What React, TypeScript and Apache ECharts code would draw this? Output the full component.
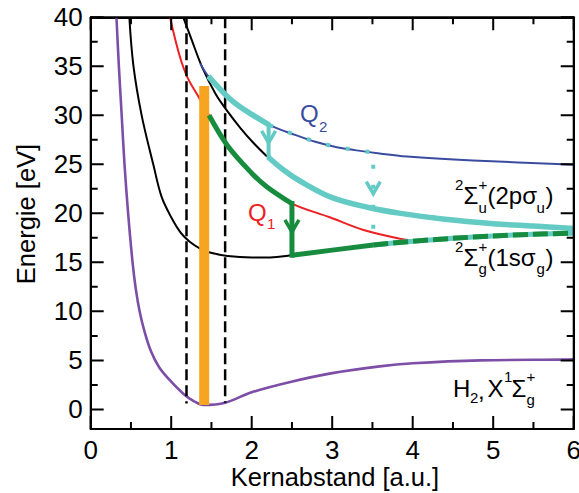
import React, { useEffect, useRef } from "react";
import * as echarts from "echarts";

// Internuclear distance R in a.u., energy E in eV.
const xTicks = [0, 1, 2, 3, 4, 5, 6];
const xMinorTicks = [0.5, 1.5, 2.5, 3.5, 4.5, 5.5];
const yMajorTicks = [0, 5, 10, 15, 20, 25, 30, 35, 40];
const yMinorTicks = [2.5, 7.5, 12.5, 17.5, 22.5, 27.5, 32.5, 37.5];
const X_MIN = 0;
const X_MAX = 6;
const Y_MIN = -2;
const Y_MAX = 40;

// H2 ground state X 1Σg+
const groundState = [
  [0.32, 40], [0.35, 35], [0.385, 30], [0.42, 25], [0.465, 20], [0.52, 15],
  [0.56, 12.3], [0.61, 9.9], [0.67, 7.9], [0.75, 5.9], [0.85, 4.3], [0.98, 3.0],
  [1.15, 1.6], [1.28, 0.85], [1.4, 0.45], [1.67, 0.68], [2.0, 1.75], [2.48, 2.8],
  [3.0, 3.7], [3.59, 4.39], [4.0, 4.7], [4.84, 5.0], [5.87, 5.08], [6.0, 5.1],
];

// H2+ 2Σg+(1sσg), repulsive wall and well
const sigmaGWall = [
  [0.48, 40], [0.53, 35.1], [0.633, 30], [0.78, 24.9], [0.88, 21.7], [1.0, 19.6],
  [1.12, 18.0], [1.23, 17.1], [1.36, 16.4], [1.48, 16.0], [1.7, 15.65], [2.0, 15.5], [2.23, 15.5],
];
// 1sσg from the end of the Q1 drop to the bend
const sigmaGMid = [[2.5, 15.72], [3.0, 16.25], [3.51, 16.78]];
// 1sσg towards dissociation
const sigmaGTail = [[3.51, 16.78], [4.0, 17.15], [4.5, 17.45], [5.0, 17.7], [5.5, 17.87], [6.0, 17.97]];

// Coulomb branch
const coulomb = [[1.15, 40], [1.25, 37.8], [1.38, 35], [1.55, 32.2], [1.7, 30.4], [1.86, 28.7], [2.02, 27.2], [2.19, 25.8]];

// Q1 doubly excited state
const q1Curve = [
  [0.985, 40], [1.1, 36.2], [1.2, 33.9], [1.36, 31.6], [1.47, 30.0], [1.7, 26.9],
  [2.0, 24.1], [2.19, 22.7], [2.5, 21.0], [2.97, 19.6], [3.39, 18.3], [3.88, 17.35], [4.05, 17.2],
];
const q1Path = [[1.47, 30.0], [1.7, 26.9], [2.0, 24.1], [2.19, 22.7], [2.5, 21.0]];

// Q2 doubly excited state
const q2Curve = [
  [1.36, 35.3], [1.46, 34.0], [1.7, 31.9], [1.85, 30.9], [2.0, 30.1], [2.22, 29.0],
  [2.54, 28.0], [2.79, 27.3], [3.03, 26.8], [3.28, 26.45], [3.59, 26.1], [3.93, 25.8],
  [4.75, 25.4], [5.87, 25.0], [6.0, 24.97],
];
const q2Path = [[1.46, 34.0], [1.7, 31.9], [1.85, 30.9], [2.0, 30.1], [2.22, 29.0]];
const q2Dotted = [[2.22, 29.0], [2.54, 28.0], [2.79, 27.3], [3.03, 26.8], [3.28, 26.45], [3.51, 26.2], [3.51, 16.78]];

// 2Σu+(2pσu)
const sigmaU = [
  [2.21, 25.7], [2.4, 24.4], [2.6, 23.3], [3.0, 21.6], [3.45, 20.6], [3.85, 20.0],
  [4.4, 19.4], [5.0, 18.95], [5.5, 18.7], [6.0, 18.45],
];

// Vertical drops
const q1Drop = [[2.5, 21.0], [2.5, 15.72]];
const q2Drop = [[2.21, 29.0], [2.21, 25.7]];
// Arrowhead tips [R, E]
const greenHeads = [[2.5, 18.1]];
const cyanHeads = [[2.21, 27.2], [3.51, 22.0]];

// Franck-Condon region and vertical excitation
const fcLeft = [[1.19, 40], [1.19, 0.6]];
const fcRight = [[1.67, 40], [1.67, 0.68]];
const excitation = [[1.41, 0.45], [1.41, 33.0]];

const FONT = '"Liberation Sans", Arial, Helvetica, sans-serif';
const PURPLE = "#7d4ea6";
const RED = "#ee2024";
const BLUE = "#3a4ca0";
const GREEN = "#178c3e";
const CYAN = "#63cbc4";
const ORANGE = "#f7a520";

const WIDTH = 579;
const HEIGHT = 493;
const GRID = { left: 90.7, right: 5.3, top: 17.3, bottom: 64 };
const PLOT_W = WIDTH - GRID.left - GRID.right;
const PLOT_H = HEIGHT - GRID.top - GRID.bottom;

function line(data: number[][], color: string, width: number, extra: any = {}) {
  return {
    type: "line",
    data,
    showSymbol: false,
    symbol: "none",
    silent: true,
    clip: true,
    smooth: extra.smooth ?? 0.35,
    lineStyle: { color, width, type: extra.dash ?? "solid", cap: extra.cap ?? "butt", join: "miter" },
    z: 2,
  };
}

function heads(data: number[][], color: string, width: number) {
  return {
    type: "custom",
    silent: true,
    data,
    z: 5,
    renderItem: (_p: any, api: any) => {
      const p = api.coord([api.value(0), api.value(1)]);
      return {
        type: "polyline",
        shape: { points: [[p[0] - 7, p[1] - 12], [p[0], p[1]], [p[0] + 7, p[1] - 12]] },
        style: { stroke: color, lineWidth: width, fill: null },
      };
    },
  };
}

// Each side of the frame is one long polyline running along the edge,
// stepping inward and back at every tick.
function frameWithTicks() {
  const px = (v: number) => GRID.left + ((v - X_MIN) / (X_MAX - X_MIN)) * PLOT_W;
  const py = (v: number) => GRID.top + ((Y_MAX - v) / (Y_MAX - Y_MIN)) * PLOT_H;
  const left = GRID.left;
  const right = GRID.left + PLOT_W;
  const top = GRID.top;
  const bottom = GRID.top + PLOT_H;

  const xs = [...xTicks.map((v) => [v, 13]), ...xMinorTicks.map((v) => [v, 7])].sort((a, b) => a[0] - b[0]);
  const ys = [...yMajorTicks.map((v) => [v, 13]), ...yMinorTicks.map((v) => [v, 7])].sort((a, b) => b[0] - a[0]);

  const horizontal = (edge: number, dir: number) => {
    const pts: number[][] = [[left, edge]];
    xs.forEach(([v, len]) => {
      const x = px(v);
      pts.push([x, edge], [x, edge + dir * len], [x, edge]);
    });
    pts.push([right, edge]);
    return pts;
  };
  const vertical = (edge: number, dir: number) => {
    const pts: number[][] = [[edge, top]];
    ys.forEach(([v, len]) => {
      const y = py(v);
      pts.push([edge, y], [edge + dir * len, y], [edge, y]);
    });
    pts.push([edge, bottom]);
    return pts;
  };
  const poly = (points: number[][]) => ({
    type: "polyline",
    silent: true,
    z: 20,
    shape: { points },
    style: { stroke: "#000", lineWidth: 2, fill: null, lineJoin: "bevel", lineCap: "butt" },
  });
  return [
    poly(horizontal(bottom, -1)),
    poly(horizontal(top, 1)),
    poly(vertical(left, 1)),
    poly(vertical(right, -1)),
  ];
}

function frameAxis(kind: "x" | "y", position: string, labels: boolean) {
  const base: any = {
    type: "value",
    position,
    splitLine: { show: false },
    axisLine: { show: true, onZero: false, lineStyle: { color: "#000", width: 2 } },
    axisTick: { show: false },
    minorTick: { show: false },
    axisLabel: { show: labels, color: "#000", fontSize: 26, fontFamily: FONT, margin: 8 },
  };
  if (kind === "x") return { ...base, min: X_MIN, max: X_MAX, interval: 1 };
  return { ...base, min: Y_MIN, max: Y_MAX, axisLabel: { ...base.axisLabel, customValues: yMajorTicks } };
}

function txt(text: string, x: number, y: number, size: number, color = "#000", extra: any = {}) {
  return {
    type: "text",
    x,
    y,
    silent: true,
    rotation: extra.rotation ?? 0,
    z: 10,
    style: {
      text,
      fill: color,
      fontSize: size,
      fontFamily: FONT,
      align: extra.align ?? "left",
      verticalAlign: "middle",
    },
  };
}

export default function App() {
  const ref = useRef<HTMLDivElement>(null);

  useEffect(() => {
    if (!ref.current) return;
    const chart = echarts.init(ref.current, undefined, { renderer: "svg" });
    const big = 24;
    const small = 15;
    chart.setOption({
      animation: false,
      backgroundColor: "#fff",
      grid: { ...GRID, outerBoundsMode: "none" },
      xAxis: [frameAxis("x", "bottom", true), frameAxis("x", "top", false)],
      yAxis: [frameAxis("y", "left", true), frameAxis("y", "right", false)],
      series: [
        line(groundState, PURPLE, 2.6),
        line([...sigmaGWall, ...sigmaGMid, ...sigmaGTail.slice(1)], "#000", 2),
        line(coulomb, "#000", 2),
        line(q1Curve, RED, 2),
        line(q2Curve, BLUE, 2),
        line(fcLeft, "#000", 2.5, { dash: [11, 5], smooth: false }),
        line(fcRight, "#000", 2.5, { dash: [11, 5], smooth: false }),
        line(excitation, ORANGE, 10, { smooth: false }),
        line(q1Path, GREEN, 5),
        line(q1Drop, GREEN, 5, { smooth: false, cap: "square" }),
        line(sigmaGMid, GREEN, 5, { smooth: false }),
        line(q2Path, CYAN, 5.5),
        line(q2Drop, CYAN, 4, { smooth: false, cap: "square" }),
        line(sigmaU, CYAN, 5.5),
        line(q2Dotted, CYAN, 4, { smooth: false, dash: [4, 16] }),
        line(sigmaGTail, CYAN, 5, { smooth: 0.3 }),
        line(sigmaGTail, GREEN, 5, { smooth: 0.3, dash: [15, 5] }),
        heads(greenHeads, GREEN, 3.5),
        heads(cyanHeads, CYAN, 3.5),
      ],
      graphic: [
        ...frameWithTicks(),
        txt("Kernabstand [a.u.]", 335, 477, 25.5, "#000", { align: "center" }),
        txt("Energie [eV]", 26, 214, 25.5, "#000", { align: "center", rotation: Math.PI / 2 }),
        // Q labels
        txt("Q", 300, 113, big, BLUE),
        txt("2", 319, 126, small, BLUE),
        txt("Q", 248, 212, big, RED),
        txt("1", 267, 223, small, RED),
        // 2Σu+(2pσu)
        txt("2", 455, 184, small),
        txt("Σ", 463.5, 195, big),
        txt("+", 478.5, 184, small),
        txt("u", 478.5, 207, small),
        txt("(2pσ", 487.5, 195, big),
        txt("u", 536.5, 207, small),
        txt(")", 545.5, 195, big),
        // 2Σg+(1sσg)
        txt("2", 455, 246, small),
        txt("Σ", 463.5, 257, big),
        txt("+", 478.5, 246, small),
        txt("g", 478.5, 268, small),
        txt("(1sσ", 487.5, 257, big),
        txt("g", 536.5, 268, small),
        txt(")", 545.5, 257, big),
        // H2, X 1Σg+
        txt("H", 453, 388, big),
        txt("2", 470, 397, small),
        txt(",", 478, 390, big),
        txt("X", 487.5, 388, big),
        txt("1", 504, 376, small),
        txt("Σ", 511.5, 388, big),
        txt("+", 526.5, 376, small),
        txt("g", 526.5, 399, small),
      ],
    });
    return () => chart.dispose();
  }, []);

  return <div ref={ref} style={{ position: "fixed", left: 0, top: 0, width: 579, height: 493 }} />;
}
